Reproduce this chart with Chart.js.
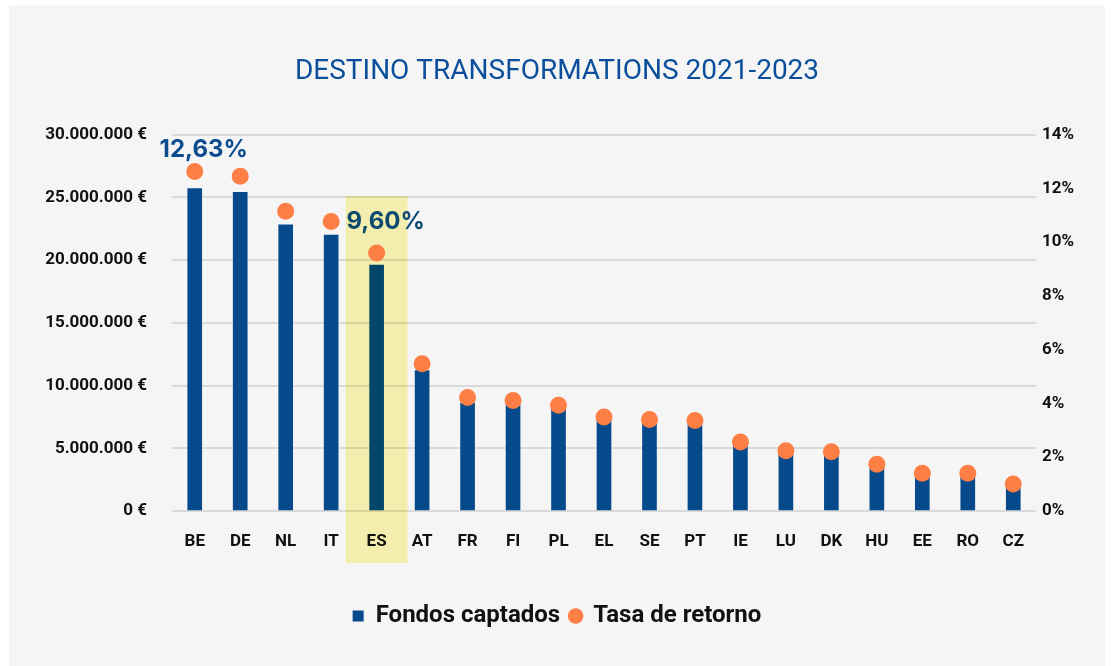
<!DOCTYPE html>
<html>
<head>
<meta charset="utf-8">
<script src="https://cdn.jsdelivr.net/npm/chart.js@4.4.0/dist/chart.umd.min.js"></script>
<style>
  html, body { margin: 0; padding: 0; background: #ffffff; }
  #wrap { position: absolute; left: 9px; top: 5px; width: 1096px; height: 661px; background: #f5f5f5; }
</style>
</head>
<body>
<div id="wrap"><canvas id="chart"></canvas></div>
<script>
const countries = ['BE', 'DE', 'NL', 'IT', 'ES', 'AT', 'FR', 'FI', 'PL', 'EL', 'SE', 'PT', 'IE', 'LU', 'DK', 'HU', 'EE', 'RO', 'CZ'];
const fondosCaptados = [25700000, 25400000, 22800000, 22000000, 19600000, 11200000, 8600000, 8450000, 8100000, 7200000, 6950000, 6850000, 5200000, 4850000, 4600000, 3550000, 2750000, 2800000, 1800000];
const tasaRetorno = [12.63, 12.45, 11.15, 10.77, 9.60, 5.48, 4.22, 4.11, 3.93, 3.50, 3.40, 3.37, 2.57, 2.24, 2.20, 1.74, 1.40, 1.40, 1.00];
const highlighted = 'ES';
const shownRates = ['BE', 'ES'];

const euros = v => String(v).replace(/\B(?=(\d{3})+(?!\d))/g, '.') + ' €';
const pct = v => v.toFixed(2).replace('.', ',') + '%';

const blue = '#064a8c';
const teal = '#02466a';
const orange = '#fd7f45';
const tickFont = { family: 'Roboto', size: 17, weight: 'bold' };

// yellow band behind the highlighted country
const highlightBand = {
  id: 'highlightBand',
  beforeDraw(chart) {
    const x = chart.scales.x, y = chart.scales.y;
    const idx = countries.indexOf(highlighted);
    const cx = x.getPixelForValue(idx);
    const half = x.width / countries.length * 0.68;
    const top = y.getPixelForValue(25100000);
    const bottom = chart.chartArea.bottom + 52;
    const ctx = chart.ctx;
    ctx.save();
    ctx.fillStyle = '#f3edae';
    ctx.fillRect(cx - half, top, half * 2, bottom - top);
    ctx.restore();
  }
};

// percentage labels above selected points
const rateLabels = {
  id: 'rateLabels',
  afterDatasetsDraw(chart) {
    const meta = chart.getDatasetMeta(1);
    const ctx = chart.ctx;
    ctx.save();
    ctx.font = '700 24px Inter';
    ctx.textAlign = 'center';
    ctx.textBaseline = 'middle';
    shownRates.forEach(c => {
      const i = countries.indexOf(c);
      const pt = meta.data[i];
      ctx.fillStyle = c === highlighted ? '#0c4a70' : '#0a4c8e';
      ctx.fillText(pct(tasaRetorno[i]), pt.x + 9, pt.y - (c === highlighted ? 31 : 22));
    });
    ctx.restore();
  }
};

new Chart(document.getElementById('chart'), {
  data: {
    labels: countries,
    datasets: [
      {
        type: 'bar',
        label: 'Fondos captados',
        data: fondosCaptados,
        backgroundColor: countries.map(c => c === highlighted ? teal : blue),
        barThickness: 14,
        yAxisID: 'y',
        order: 2,
        pointStyle: 'rect'
      },
      {
        type: 'line',
        label: 'Tasa de retorno',
        data: tasaRetorno,
        showLine: false,
        pointRadius: 8.5,
        pointHoverRadius: 8.5,
        pointBorderWidth: 0,
        pointBackgroundColor: orange,
        backgroundColor: orange,
        borderColor: orange,
        yAxisID: 'y1',
        order: 1,
        pointStyle: 'circle'
      }
    ]
  },
  options: {
    responsive: true,
    maintainAspectRatio: false,
    animation: false,
    layout: { padding: { left: 0, right: 0, top: 0, bottom: 28 } },
    plugins: {
      title: {
        display: true,
        text: 'DESTINO TRANSFORMATIONS 2021-2023',
        color: '#0b4f9c',
        font: { family: 'Roboto', size: 28, weight: '400' },
        padding: { top: 50, bottom: 46 }
      },
      legend: {
        position: 'bottom',
        labels: {
          usePointStyle: true,
          boxWidth: 11,
          boxHeight: 11,
          padding: 10,
          color: '#111111',
          font: { family: 'Roboto', size: 24, weight: 'bold' },
          sort: (a, b) => a.datasetIndex - b.datasetIndex
        }
      },
      tooltip: { enabled: false }
    },
    scales: {
      x: {
        grid: { display: false, drawTicks: false },
        border: { display: false },
        ticks: { color: '#111111', padding: 21, font: tickFont },
        afterFit: s => { s.height = 83; }
      },
      y: {
        position: 'left',
        min: 0,
        max: 30000000,
        grid: { color: 'rgba(0,0,0,0.11)', lineWidth: 2, drawTicks: false },
        border: { display: false },
        ticks: {
          stepSize: 5000000,
          padding: 25,
          color: '#111111',
          font: tickFont,
          callback: v => euros(v)
        },
        afterFit: s => { s.width = 163; }
      },
      y1: {
        position: 'right',
        min: 0,
        max: 14,
        grid: { display: false, drawTicks: false },
        border: { display: false },
        ticks: {
          stepSize: 2,
          padding: 6,
          color: '#111111',
          font: tickFont,
          callback: v => v + '%'
        },
        afterFit: s => { s.width = 69; }
      }
    }
  },
  plugins: [highlightBand, rateLabels]
});
</script>
</body>
</html>
